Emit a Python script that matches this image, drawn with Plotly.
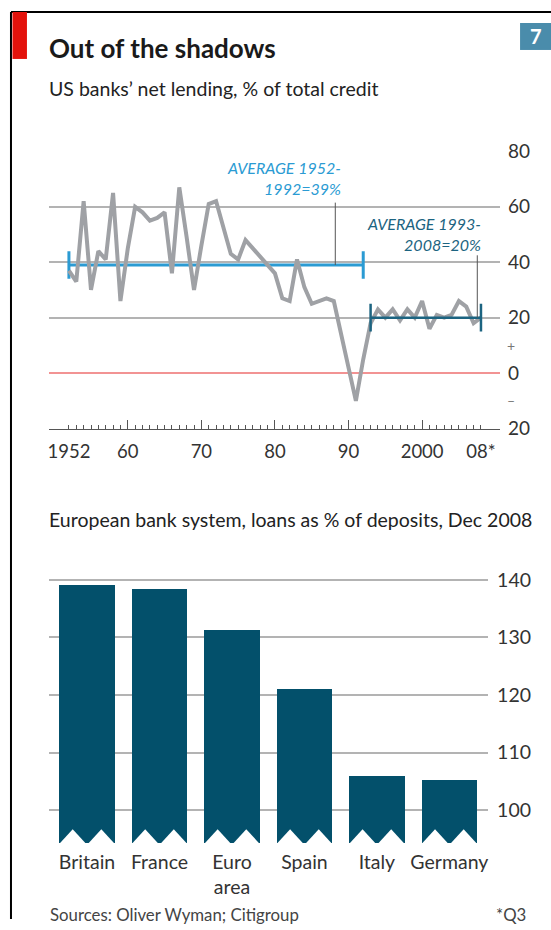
import plotly.graph_objects as go

# --- US banks' net lending, % of total credit (annual, 2008 = Q3) ---
years = list(range(1952, 2009))
net_lending = [
    37, 33, 62, 30, 44, 41, 65, 26, 45, 60,      # 1952-61
    58, 55, 56, 58, 36, 67, 49, 30, 46, 61,      # 1962-71
    62, 53, 43, 41, 48, 45, 42, 39, 36, 27,      # 1972-81
    26, 41, 31, 25, 26, 27, 26, 14, 2, -10,      # 1982-91
    5, 18, 23, 20, 23, 19, 23, 20, 26, 16,       # 1992-2001
    21, 20, 21, 26, 24, 18, 20,                  # 2002-08
]

# Period averages: (first year, last year, average %)
avg_periods = [(1952, 1992, 39), (1993, 2008, 20)]
avg_labels = ["AVERAGE 1952-<br>1992=39%", "AVERAGE 1993-<br>2008=20%"]

x_tick_years = [1952, 1960, 1970, 1980, 1990, 2000, 2008]
x_tick_text = ["1952", "60", "70", "80", "90", "2000", "08*"]
decades = [1960, 1970, 1980, 1990, 2000]
y1_ticks = [-20, 0, 20, 40, 60, 80]
y1_text = ["20", "0", "20", "40", "60", "80"]

# --- European bank system, loans as % of deposits, Dec 2008 ---
countries = ["Britain", "France", "Euro<br>area", "Spain", "Italy", "Germany"]
loan_deposit = [139.0, 138.4, 131.2, 121.0, 105.9, 105.2]
y2_ticks = [100, 110, 120, 130, 140]

FONT = "Lato, 'Open Sans', sans-serif"
W, H = 551, 930
GREY_LINE = "#9fa1a5"
AVG1 = "#2b9bd3"
AVG2 = "#1c6481"
BAR = "#03506b"
GRID = "#b3b3b3"
TXT = "#333333"

# vertical placement on the page: the page shows the figure with a
# small band above and below, so positions are expressed in page pixels
PAGE_TOP, PAGE_SCALE = 10.0, 0.9763


def px(x):
    return x / W


def py(y):
    fig_y = (y - PAGE_TOP) / PAGE_SCALE
    return min(1.0, max(0.0, 1 - fig_y / H))


fig = go.Figure()

cap = 5


def avg_trace(start, end, avg, colour, width):
    return go.Scatter(
        x=[start, end, None, start, start, None, end, end],
        y=[avg, avg, None, avg - cap, avg + cap, None, avg - cap, avg + cap],
        mode="lines", line=dict(color=colour, width=width),
        hoverinfo="skip", showlegend=False, xaxis="x", yaxis="y",
    )


fig.add_trace(avg_trace(*avg_periods[0], AVG1, 3))
fig.add_trace(go.Scatter(
    x=years, y=net_lending, mode="lines",
    line=dict(color=GREY_LINE, width=4), showlegend=False,
    xaxis="x", yaxis="y",
))
# the later average sits on top of the grey line
fig.add_trace(avg_trace(*avg_periods[1], AVG2, 2.5))

# decade ticks on an overlaid axis
fig.add_trace(go.Scatter(x=[years[0]], y=[None], xaxis="x3", yaxis="y",
                         showlegend=False, hoverinfo="skip"))

# bars
bar_pos = list(range(len(countries)))
bar_w = 0.77
y2_bottom = 94.28
fig.add_trace(go.Bar(
    x=bar_pos, y=[v - y2_bottom for v in loan_deposit], base=y2_bottom,
    width=bar_w, marker=dict(color=BAR, line=dict(width=0)),
    showlegend=False, xaxis="x2", yaxis="y2",
))

# zig-zag cut at the foot of each bar
apex = 96.7
shapes = []
for p in bar_pos:
    h = bar_w / 2
    for a0, a1 in [(p - h - 0.01, p), (p, p + h + 0.01)]:
        shapes.append(dict(
            type="path", xref="x2", yref="y2",
            path=f"M {a0},{y2_bottom - 0.3} L {(a0 + a1) / 2},{apex} "
                 f"L {a1},{y2_bottom - 0.3} Z",
            fillcolor="white", line=dict(width=0), layer="above"))

tick_font = dict(family=FONT, size=19, color=TXT)

fig.update_layout(
    width=W, height=H,
    margin=dict(l=0, r=0, t=0, b=0),
    paper_bgcolor="white", plot_bgcolor="white",
    font=dict(family=FONT, color=TXT),
    xaxis=dict(
        domain=[px(48), px(500)], range=[1949.28, 2010.6], anchor="y",
        tickvals=x_tick_years, ticktext=x_tick_text, ticks="",
        tickfont=dict(family=FONT, size=18.5, color=TXT),
        ticklabelstandoff=6,
        showgrid=False, zeroline=False,
        showline=True, linecolor="#555555", linewidth=1,
        minor=dict(tickvals=[y for y in years if y not in decades],
                   ticks="inside", ticklen=4, tickcolor="#555555",
                   tickwidth=1, showgrid=False),
    ),
    xaxis3=dict(
        overlaying="x", matches="x", anchor="y", side="bottom",
        tickvals=decades, ticks="inside", ticklen=9, tickcolor="#555555",
        tickwidth=1, showticklabels=False, showgrid=False, zeroline=False,
        showline=False,
    ),
    yaxis=dict(
        domain=[py(427), py(149.5)], range=[-20, 80], anchor="x",
        side="right", tickvals=y1_ticks, ticktext=y1_text, ticks="",
        tickfont=tick_font, ticklabelstandoff=7,
        showgrid=True, gridcolor=GRID, gridwidth=2,
        zeroline=True, zerolinecolor="#f29393", zerolinewidth=2,
        showline=False,
    ),
    xaxis2=dict(
        domain=[px(48), px(488)], range=[-0.526, 5.535], anchor="y2",
        tickvals=bar_pos, ticktext=countries, ticks="",
        tickfont=dict(family=FONT, size=19.5, color=TXT), ticklabelstandoff=5,
        showgrid=False, zeroline=False, showline=False,
    ),
    yaxis2=dict(
        domain=[py(842), py(575)], range=[y2_bottom, 140.57], anchor="x2",
        side="right", tickvals=y2_ticks, ticks="",
        tickfont=dict(family=FONT, size=19.5, color=TXT), ticklabelstandoff=8,
        showgrid=True, gridcolor=GRID, gridwidth=2,
        zeroline=False, showline=False,
    ),
    bargap=0,
)

shapes += [
    # frame
    dict(type="line", xref="paper", yref="paper", x0=px(10), x1=px(10),
         y0=0, y1=py(7), line=dict(color="black", width=2)),
    dict(type="line", xref="paper", yref="paper", x0=px(10), x1=1,
         y0=py(7.5), y1=py(7.5), line=dict(color="black", width=2)),
    # red tab
    dict(type="rect", xref="paper", yref="paper", x0=px(11.5), x1=px(26),
         y0=py(57), y1=py(9), fillcolor="#e3120b", line=dict(width=0)),
    # chart number box
    dict(type="rect", xref="paper", yref="paper", x0=px(520), x1=1,
         y0=py(48), y1=py(21), fillcolor="#4a8cab", line=dict(width=0)),
    # leader lines for the average labels
    dict(type="line", xref="x", yref="y", x0=1988.2, x1=1988.2,
         y0=avg_periods[0][2], y1=61.5, line=dict(color="#555555", width=1)),
    dict(type="line", xref="x", yref="y", x0=2007.5, x1=2007.5,
         y0=avg_periods[1][2], y1=42.5, line=dict(color="#555555", width=1)),
]
fig.update_layout(shapes=shapes)

annotations = [
    dict(text="<b>Out of the shadows</b>", x=px(46), y=py(46),
         xanchor="left", yanchor="middle",
         font=dict(family=FONT, size=26, color="#1a1a1a")),
    dict(text="US banks\u2019 net lending, % of total credit", x=px(46), y=py(87),
         xanchor="left", yanchor="middle",
         font=dict(family=FONT, size=19.5, color="#222222")),
    dict(text="<b>7</b>", x=px(535.5), y=py(34.5), xanchor="center",
         yanchor="middle", font=dict(family=FONT, size=20, color="white")),
    dict(text="European bank system, loans as % of deposits, Dec 2008",
         x=px(46), y=py(518), xanchor="left", yanchor="middle",
         font=dict(family=FONT, size=19.5, color="#222222")),
    dict(text="Sources: Oliver Wyman; Citigroup", x=px(47), y=py(913),
         xanchor="left", yanchor="middle",
         font=dict(family=FONT, size=16.8, color="#444444")),
    dict(text="*Q3", x=px(528), y=py(913), xanchor="right", yanchor="middle",
         font=dict(family=FONT, size=16.8, color="#444444")),
    dict(text="+", x=px(511), y=10, xref="paper", yref="y", xanchor="center",
         yanchor="middle", font=dict(family=FONT, size=14, color="#777777")),
    dict(text="\u2013", x=px(511), y=-10, xref="paper", yref="y",
         xanchor="center", yanchor="middle",
         font=dict(family=FONT, size=14, color="#777777")),
    dict(text="<i>" + avg_labels[0] + "</i>", x=1989.3, y=70.3, xref="x",
         yref="y", xanchor="right", yanchor="middle", align="right",
         font=dict(family=FONT, size=16, color=AVG1)),
    dict(text="<i>" + avg_labels[1] + "</i>", x=2008.3, y=50.1, xref="x",
         yref="y", xanchor="right", yanchor="middle", align="right",
         font=dict(family=FONT, size=16, color=AVG2)),
]
for a in annotations:
    a.setdefault("xref", "paper")
    a.setdefault("yref", "paper")
    a["showarrow"] = False
fig.update_layout(annotations=annotations)

fig.write_html("out.html")
